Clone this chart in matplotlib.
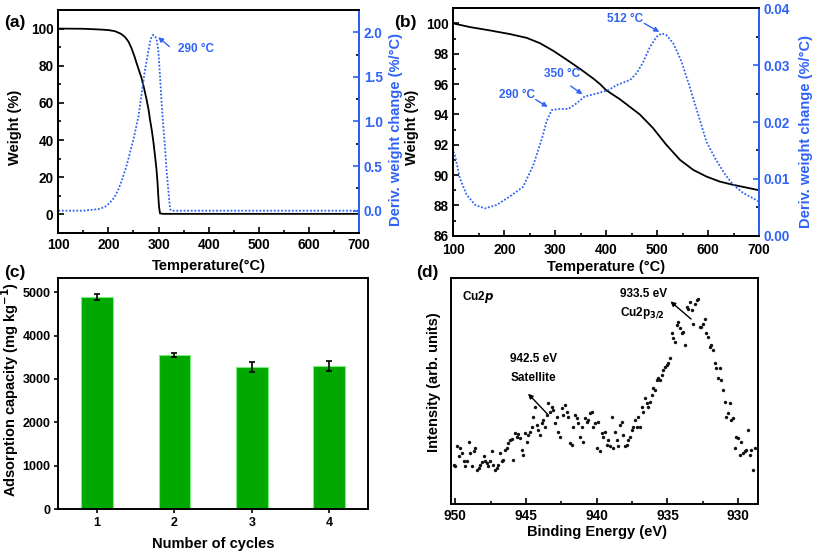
import numpy as np
import matplotlib
matplotlib.use("Agg")
import matplotlib.pyplot as plt
from matplotlib.ticker import MultipleLocator

plt.rcParams['font.family'] = ['Liberation Sans', 'DejaVu Sans']
plt.rcParams['font.weight'] = 'bold'
plt.rcParams['axes.labelweight'] = 'bold'
plt.rcParams['mathtext.default'] = 'bf'

BLUE = '#2f62f5'
GREEN = '#00a800'

# ---------------- data (a) ----------------
temp_a_w = [100, 150, 183, 200, 213, 225, 233, 240, 246, 252, 256, 261, 266, 271, 276, 280,
            283, 287, 290, 293, 296, 298, 299.5, 301, 303, 310, 400, 500, 600, 700]
weight_a = [100, 99.9, 99.5, 99.2, 98.6, 97.2, 95.5, 93, 89.5, 85, 81.6, 77.5, 73.5, 68, 62, 56.5,
            51, 44.5, 38.5, 31.5, 24, 17, 10, 4, 0.5, 0.3, 0.3, 0.3, 0.3, 0.3]
temp_a_d = [100, 150, 183, 195, 203, 212, 220, 228, 236, 243, 250, 255, 260, 266.5, 273, 277, 280,
            283, 286, 289, 293, 296, 299.5, 303, 306, 309.5, 313, 316, 320, 323, 326, 400, 500, 600, 700]
deriv_a = [0.0, 0.0, 0.02, 0.05, 0.09, 0.15, 0.24, 0.36, 0.5, 0.65, 0.8, 0.93, 1.06, 1.32, 1.58, 1.70, 1.80,
           1.89, 1.95, 1.97, 1.96, 1.92, 1.80, 1.5, 1.22, 0.95, 0.7, 0.46, 0.2, 0.02, 0.0, 0.0, 0.0, 0.0, 0.0]

# ---------------- data (b) ----------------
temp_b_w = [100, 103, 133, 172, 211, 244, 270, 296, 323, 349, 375, 388, 400, 427, 466, 492, 518,
            545, 571, 597, 623, 650, 676, 700]
weight_b = [100, 99.98, 99.76, 99.54, 99.3, 99.05, 98.7, 98.2, 97.6, 97.0, 96.36, 96.0, 95.6, 95.0,
            94.0, 93.1, 92.0, 91.0, 90.34, 89.9, 89.57, 89.35, 89.17, 89.0]
temp_b_d = [100, 103, 113, 126, 143, 162, 185, 211, 237, 257, 274, 283, 293, 309, 326, 342, 358, 381,
            404, 421, 447, 460, 473, 486, 499, 509, 518, 532, 548, 565, 581, 597, 614, 634, 650, 669, 686, 700]
deriv_b = [0.0148, 0.0142, 0.0101, 0.0072, 0.0054, 0.0048, 0.0054, 0.0069, 0.0086, 0.0124, 0.0171,
           0.0201, 0.0221, 0.0223, 0.0223, 0.0233, 0.0245, 0.0250, 0.0256, 0.0265, 0.0274, 0.0286,
           0.0306, 0.0332, 0.0350, 0.0356, 0.0353, 0.0338, 0.0306, 0.0259, 0.0212, 0.0165, 0.0136,
           0.0107, 0.0089, 0.0075, 0.0067, 0.0060]

# ---------------- data (c) ----------------
cycles = [1, 2, 3, 4]
capacity = [4892, 3553, 3269, 3300]
capacity_err = [69, 54, 115, 119]

# ---------------- data (d) ----------------
intensity = [118, 113, 173, 143, 168, 153, 128, 113, 128, 188, 153, 113, 158, 168, 103, 108, 118, 125,
             143, 128, 123, 113, 128, 158, 118, 103, 108, 118, 153, 128, 133, 163, 168, 183, 193, 195,
             133, 213, 203, 211, 198, 163, 148, 213, 188, 208, 218, 233, 263, 293, 238, 223, 208, 243,
             253, 233, 268, 303, 278, 293, 283, 243, 263, 218, 203, 288, 268, 298, 278, 263, 183, 178,
             233, 268, 258, 243, 203, 233, 188, 258, 248, 253, 273, 278, 233, 243, 168, 248, 158, 213,
             203, 218, 178, 193, 173, 263, 168, 218, 193, 173, 238, 248, 208, 173, 178, 193, 203, 223,
             233, 253, 233, 263, 233, 293, 278, 318, 303, 293, 308, 328, 348, 343, 373, 378, 373, 388,
             403, 413, 418, 423, 438, 513, 498, 488, 538, 548, 528, 513, 518, 478, 593, 588, 608, 583,
             543, 603, 613, 618, 533, 533, 543, 558, 513, 503, 473, 478, 463, 423, 408, 378, 408, 373,
             343, 308, 263, 273, 303, 253, 258, 168, 203, 198, 148, 188, 153, 158, 163, 223, 148, 163,
             103, 168]
be_start, be_end = 950.12, 928.83
binding_energy = np.linspace(be_start, be_end, len(intensity))

W, H = 817, 557
fig = plt.figure(figsize=(W / 100, H / 100), dpi=100)


def rect(l, t, r, b):
    return [l / W, 1 - b / H, (r - l) / W, (b - t) / H]


TICK = 9.8
LAB = 10.5
ANN = 8.5


def style_axis(ax, size=TICK):
    for s in ax.spines.values():
        s.set_linewidth(1.4)
    ax.tick_params(axis='both', which='both', direction='in', labelsize=size, width=1.2)
    ax.tick_params(which='major', length=4)
    ax.tick_params(which='minor', length=2.5)


# ================= (a) =================
axa = fig.add_axes(rect(58.3, 10, 359, 233))
axa.plot(temp_a_w, weight_a, color='black', lw=1.3)
axa.set_xlim(100, 700)
axa.set_ylim(-10, 110)
axa.xaxis.set_major_locator(MultipleLocator(100))
axa.xaxis.set_minor_locator(MultipleLocator(50))
axa.yaxis.set_major_locator(MultipleLocator(20))
axa.yaxis.set_minor_locator(MultipleLocator(10))
style_axis(axa)
axa.set_xlabel('Temperature(°C)', fontsize=LAB)
axa.xaxis.set_label_coords(0.5, -0.115)
axa.set_ylabel('Weight (%)', fontsize=LAB)
axa.yaxis.set_label_coords(-0.121, 0.475)

axa2 = axa.twinx()
axa2.plot(temp_a_d, deriv_a, color=BLUE, lw=1.3, ls=(0, (1, 1)))
axa2.set_ylim(-0.25, 2.25)
axa2.yaxis.set_major_locator(MultipleLocator(0.5))
axa2.yaxis.set_minor_locator(MultipleLocator(0.25))
style_axis(axa2)
axa2.tick_params(axis='y', colors=BLUE)
axa2.spines['right'].set_color(BLUE)
axa2.set_ylabel('Deriv. weight change (%/°C)', fontsize=LAB, color=BLUE)
axa2.yaxis.set_label_coords(1.101, 0.465)
axa2.text(374, 1.81, '290 °C', color=BLUE, fontsize=ANN, ha='center', va='center')
axa2.annotate('', xy=(295, 1.965), xytext=(326, 1.82),
              arrowprops=dict(arrowstyle='-|>', color=BLUE, lw=1.0, mutation_scale=7))

# ================= (b) =================
axb = fig.add_axes(rect(453.3, 8.3, 759, 235.7))
axb.plot(temp_b_w, weight_b, color='black', lw=1.3)
axb.set_xlim(100, 700)
axb.set_ylim(86, 101)
axb.xaxis.set_major_locator(MultipleLocator(100))
axb.xaxis.set_minor_locator(MultipleLocator(50))
axb.yaxis.set_major_locator(MultipleLocator(2))
axb.yaxis.set_minor_locator(MultipleLocator(1))
style_axis(axb)
axb.tick_params(axis='x', pad=5)
axb.set_xlabel('Temperature (°C)', fontsize=LAB)
axb.xaxis.set_label_coords(0.5, -0.108)
axb.set_ylabel('Weight (%)', fontsize=LAB)
axb.yaxis.set_label_coords(-0.111, 0.476)

axb2 = axb.twinx()
axb2.plot(temp_b_d, deriv_b, color=BLUE, lw=1.3, ls=(0, (1, 1)))
axb2.set_ylim(0, 0.04)
axb2.yaxis.set_major_locator(MultipleLocator(0.01))
axb2.yaxis.set_minor_locator(MultipleLocator(0.005))
axb2.yaxis.set_major_formatter(matplotlib.ticker.FormatStrFormatter('%.2f'))
style_axis(axb2)
axb2.tick_params(axis='y', colors=BLUE)
axb2.spines['right'].set_color(BLUE)
axb2.set_ylabel('Deriv. weight change (%/°C)', fontsize=LAB, color=BLUE)
axb2.yaxis.set_label_coords(1.131, 0.46)
for (tx, ty, s, ax0, ay0, ax1, ay1) in [
        (226, 0.0247, '290 °C', 257, 0.0242, 290, 0.0224),
        (314, 0.0284, '350 °C', 326, 0.0266, 358, 0.0246),
        (438, 0.0382, '512 °C', 470, 0.0376, 509, 0.0356)]:
    axb2.text(tx, ty, s, color=BLUE, fontsize=ANN, ha='center', va='center')
    axb2.annotate('', xy=(ax1, ay1), xytext=(ax0, ay0),
                  arrowprops=dict(arrowstyle='-|>', color=BLUE, lw=1.0, mutation_scale=7))

# ================= (c) =================
axc = fig.add_axes(rect(58.3, 278.3, 368, 509))
axc.bar(cycles, capacity, width=0.41, color=GREEN, edgecolor='#7cf07c', linewidth=0.8)
axc.errorbar(cycles, capacity, yerr=capacity_err, fmt='none', ecolor='black', elinewidth=1.2,
             capsize=2.5, capthick=1.2)
axc.set_xlim(0.5, 4.5)
axc.set_ylim(0, 5320)
axc.set_xticks(cycles)
axc.yaxis.set_major_locator(MultipleLocator(1000))
style_axis(axc, size=9.0)
axc.tick_params(axis='both', which='both', direction='out', pad=2.5)
axc.tick_params(which='major', length=3)
axc.set_xlabel('Number of cycles', fontsize=LAB)
axc.xaxis.set_label_coords(0.5, -0.122)
axc.set_ylabel('Adsorption capacity (mg kg$^{\\mathbf{-1}}$)', fontsize=LAB)
axc.yaxis.set_label_coords(-0.121, 0.52)

# ================= (d) =================
axd = fig.add_axes(rect(451, 278.3, 758, 504))
axd.scatter(binding_energy, intensity, s=6, color='#111111', linewidths=0)
axd.set_xlim(950.3, 928.6)
axd.set_ylim(0, 679)
axd.xaxis.set_major_locator(MultipleLocator(5))
axd.xaxis.set_minor_locator(MultipleLocator(2.5))
axd.set_yticks([])
style_axis(axd)
axd.set_xlabel('Binding Energy (eV)', fontsize=LAB)
axd.xaxis.set_label_coords(0.476, -0.093)
axd.set_ylabel('Intensity (arb. units)', fontsize=LAB)
axd.yaxis.set_label_coords(-0.033, 0.542)
axd.text(949.53, 623, 'Cu2$\\mathit{p}$', fontsize=ANN, ha='left', va='center')
axd.text(938.35, 631, '933.5 eV', fontsize=ANN, ha='left', va='center')
axd.text(938.35, 573, 'Cu2p$_{3/2}$', fontsize=ANN, ha='left', va='center')
axd.text(946.12, 436, '942.5 eV', fontsize=ANN, ha='left', va='center')
axd.text(946.12, 378, 'Satellite', fontsize=ANN, ha='left', va='center')
axd.annotate('', xy=(944.99, 338), xytext=(943.36, 265),
             arrowprops=dict(arrowstyle='-|>', color='black', lw=1.0, mutation_scale=7))
axd.annotate('', xy=(934.94, 615), xytext=(933.18, 551),
             arrowprops=dict(arrowstyle='-|>', color='black', lw=1.0, mutation_scale=7))

# ---------------- panel letters ----------------
for x, y, s in [(14.5, 22, '(a)'), (405, 22, '(b)'), (15, 272, '(c)'), (427, 273, '(d)')]:
    fig.text(x / W, 1 - y / H, s, fontsize=12.5, ha='center', va='center')

fig.savefig('out.png', dpi=100)
